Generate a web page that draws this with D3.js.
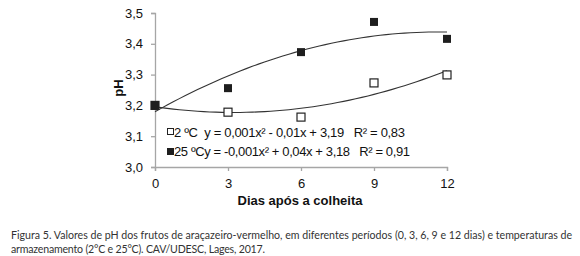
<!DOCTYPE html>
<html><head><meta charset="utf-8">
<script src="https://cdn.jsdelivr.net/npm/d3@7"></script>
<style>body{margin:0;background:#fff}svg{display:block}text{white-space:pre}</style>
</head><body>
<svg id="c" width="580" height="256"></svg>
<script>
const days = [0, 3, 6, 9, 12];
const ph2 = [3.20, 3.178, 3.162, 3.273, 3.299];
const ph25 = [3.20, 3.256, 3.373, 3.471, 3.416];
const yTicks = [3.0, 3.1, 3.2, 3.3, 3.4, 3.5];
const legend2 = "2 ºC  y = 0,001x² - 0,01x + 3,19   R² = 0,83";
const legend25 = "25 ºCy = -0,001x² + 0,04x + 3,18   R² = 0,91";
const xTitle = "Dias após a colheita";
const yTitle = "pH";
const caption1 = "Figura 5. Valores de pH dos frutos de araçazeiro-vermelho, em diferentes períodos (0, 3, 6, 9 e 12 dias) e temperaturas de";
const caption2 = "armazenamento (2°C e 25°C). CAV/UDESC, Lages, 2017.";

const svg = d3.select("#c");
const x = d3.scaleLinear().domain([0, 12]).range([155, 447]);
const y = d3.scaleLinear().domain([3.0, 3.5]).range([167, 13]);
const fmt = d => d3.format(".1f")(d).replace(".", ",");
const axisCol = "#a6a6a6";

// quadratic least-squares fit (trendline)
function quadFit(xs, ys) {
  let S = [0,0,0,0,0], T = [0,0,0];
  xs.forEach((xv, i) => {
    for (let k = 0; k < 5; k++) S[k] += Math.pow(xv, k);
    for (let k = 0; k < 3; k++) T[k] += ys[i] * Math.pow(xv, k);
  });
  const A = [[S[0],S[1],S[2],T[0]],[S[1],S[2],S[3],T[1]],[S[2],S[3],S[4],T[2]]];
  for (let i = 0; i < 3; i++) {
    for (let j = i + 1; j < 3; j++) {
      const f = A[j][i] / A[i][i];
      for (let k = i; k < 4; k++) A[j][k] -= f * A[i][k];
    }
  }
  const c = [0,0,0];
  for (let i = 2; i >= 0; i--) {
    let s = A[i][3];
    for (let k = i + 1; k < 3; k++) s -= A[i][k] * c[k];
    c[i] = s / A[i][i];
  }
  return xv => c[0] + c[1] * xv + c[2] * xv * xv;
}

// axes
const yAxis = svg.append("g").attr("transform", `translate(${x(0)},0)`)
  .call(d3.axisLeft(y).tickValues(yTicks).tickFormat(fmt).tickSize(4).tickPadding(8));
const xAxis = svg.append("g").attr("transform", `translate(0,${y(3.0)})`)
  .call(d3.axisBottom(x).tickValues(days).tickFormat(d3.format("d")).tickSize(4).tickPadding(5));
[yAxis, xAxis].forEach(g => {
  g.select(".domain").attr("stroke", axisCol).attr("stroke-width", 1.3);
  g.selectAll(".tick line").attr("stroke", axisCol).attr("stroke-width", 1.3);
  g.selectAll(".tick text").attr("fill", "#111").style("font", "13px 'Liberation Sans', Arial, sans-serif");
});
xAxis.selectAll(".tick text").attr("dy", "0.9em");

// trendlines
const xsFine = d3.range(0, 12.01, 0.25);
[ph2, ph25].forEach(vals => {
  const f = quadFit(days, vals);
  svg.append("path")
    .attr("d", d3.line().x(d => x(d)).y(d => y(f(d)))(xsFine))
    .attr("fill", "none").attr("stroke", "#333").attr("stroke-width", 1.1);
});

// markers
const ms = 8;
svg.selectAll(".m2").data(days).enter().append("rect")
  .attr("x", (d) => x(d) - ms/2).attr("y", (d, i) => y(ph2[i]) - ms/2)
  .attr("width", ms).attr("height", ms)
  .attr("fill", "#fff").attr("stroke", "#222").attr("stroke-width", 1.2);
svg.selectAll(".m25").data(days).enter().append("rect")
  .attr("x", (d) => x(d) - ms/2).attr("y", (d, i) => y(ph25[i]) - ms/2)
  .attr("width", ms).attr("height", ms)
  .attr("fill", "#1e1e1e");

// legend
const lf = "13px 'Liberation Sans', Arial, sans-serif";
svg.append("rect").attr("x", 167.5).attr("y", 128.5).attr("width", 6).attr("height", 6)
  .attr("fill", "#fff").attr("stroke", "#222").attr("stroke-width", 1);
svg.append("text").attr("x", 174).attr("y", 137).text(legend2).style("font", lf).attr("fill", "#111")
  .attr("textLength", 231).attr("lengthAdjust", "spacing");
svg.append("rect").attr("x", 167).attr("y", 148).attr("width", 7).attr("height", 7).attr("fill", "#1e1e1e");
svg.append("text").attr("x", 174).attr("y", 156).text(legend25).style("font", lf).attr("fill", "#111")
  .attr("textLength", 236).attr("lengthAdjust", "spacing");

// titles
svg.append("text").attr("x", 300).attr("y", 205).attr("text-anchor", "middle")
  .text(xTitle).style("font", "bold 13px 'Liberation Sans', Arial, sans-serif").attr("fill", "#111");
svg.append("text").attr("transform", "translate(123,88) rotate(-90)").attr("text-anchor", "middle")
  .text(yTitle).style("font", "bold 13px 'Liberation Sans', Arial, sans-serif").attr("fill", "#111");

// caption
const cf = "10.6px 'Lato', 'Noto Sans', sans-serif";
svg.append("text").attr("x", 11).attr("y", 239).text(caption1).style("font", cf).attr("fill", "#333")
  .attr("textLength", 561).attr("lengthAdjust", "spacing");
svg.append("text").attr("x", 11).attr("y", 253).text(caption2).style("font", cf).attr("fill", "#333")
  .attr("textLength", 254).attr("lengthAdjust", "spacing");
</script>
</body></html>
